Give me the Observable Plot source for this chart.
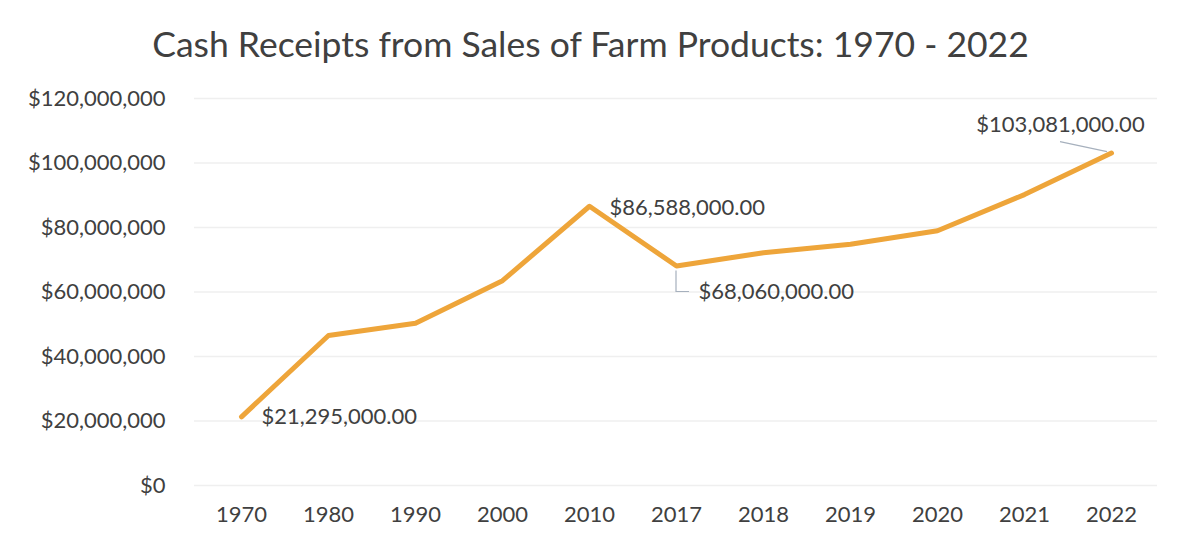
<!DOCTYPE html>
<html>
<head>
<meta charset="utf-8">
<script src="https://cdn.jsdelivr.net/npm/d3@7"></script>
<script src="https://cdn.jsdelivr.net/npm/@observablehq/plot@0.6"></script>
<style>
  html, body { margin: 0; padding: 0; background: #fff; }
  #wrap { width: 1181px; height: 541px; position: relative; overflow: hidden; }
  #title { height: 75px; box-sizing: border-box; padding-top: 26px; text-align: center;
           font: 35.5px Lato, sans-serif; line-height: 1; color: #404040; }
</style>
</head>
<body>
<div id="wrap">
  <div id="title">Cash Receipts from Sales of Farm Products: 1970 - 2022</div>
  <div id="chart"></div>
</div>
<script>
const titleText = "Cash Receipts from Sales of Farm Products: 1970 - 2022";
const years = ["1970","1980","1990","2000","2010","2017","2018","2019","2020","2021","2022"];
const receipts = [21295000, 46500000, 50300000, 63500000, 86588000, 68060000, 72200000, 74800000, 79000000, 90200000, 103081000];
const yTicks = [0, 20000000, 40000000, 60000000, 80000000, 100000000, 120000000];
// labelled points: year, text anchor, offsets
const labelYears = ["1970", "2010", "2017", "2022"];
const labelAnchor = ["start", "start", "start", "middle"];
const labelDx = [20, 20, 22, -51];
const labelDy = [0, 2, 26, -28];

const data = years.map((y, i) => ({year: y, value: receipts[i]}));
const labels = labelYears.map((y, i) => ({
  year: y, value: receipts[years.indexOf(y)], anchor: labelAnchor[i], dx: labelDx[i], dy: labelDy[i]
}));
const money0 = d3.format("$,.0f");
const money2 = d3.format("$,.2f");

// leader lines for offset labels (2017 and 2022), drawn from scales
function leaders(index, scales, values, dims, context) {
  const g = d3.create("svg:g").attr("fill", "none").attr("stroke", "#a6b0bd").attr("stroke-width", 1.2);
  const p17 = labels.find(d => d.year === "2017");
  const x17 = scales.x(p17.year), y17 = scales.y(p17.value);
  g.append("path").attr("d", `M${x17},${y17 + 5}V${y17 + p17.dy}H${x17 + 13}`);
  const p22 = labels.find(d => d.year === "2022");
  const x22 = scales.x(p22.year), y22 = scales.y(p22.value);
  g.append("path").attr("d", `M${x22 - 4},${y22 - 1}L${x22 + p22.dx},${y22 - 11}`);
  return g.node();
}

const plot = Plot.plot({
  width: 1181,
  height: 466,
  marginLeft: 194,
  marginRight: 24,
  marginTop: 23,
  marginBottom: 56,
  style: {fontFamily: "Lato, sans-serif", fontSize: "22px", color: "#404040", background: "#fff"},
  x: {type: "point", domain: years, padding: 0.5, label: null},
  y: {domain: [0, 120000000], label: null},
  marks: [
    Plot.gridY(yTicks, {stroke: "#efefef", strokeOpacity: 1, strokeWidth: 1.5}),
    Plot.axisY(yTicks, {tickSize: 0, tickPadding: 29, tickFormat: money0, fill: "#404040"}),
    Plot.axisX({tickSize: 0, tickPadding: 21, fill: "#404040"}),
    Plot.line(data, {x: "year", y: "value", stroke: "#eea53a", strokeWidth: 5, strokeLinejoin: "round", strokeLinecap: "round"}),
    leaders,
    ...labels.map(l => Plot.text([l], {x: "year", y: "value", text: d => money2(d.value),
      textAnchor: l.anchor, dx: l.dx, dy: l.dy, fill: "#404040", fontSize: 22}))
  ]
});
document.getElementById("chart").appendChild(plot);
</script>
</body>
</html>
